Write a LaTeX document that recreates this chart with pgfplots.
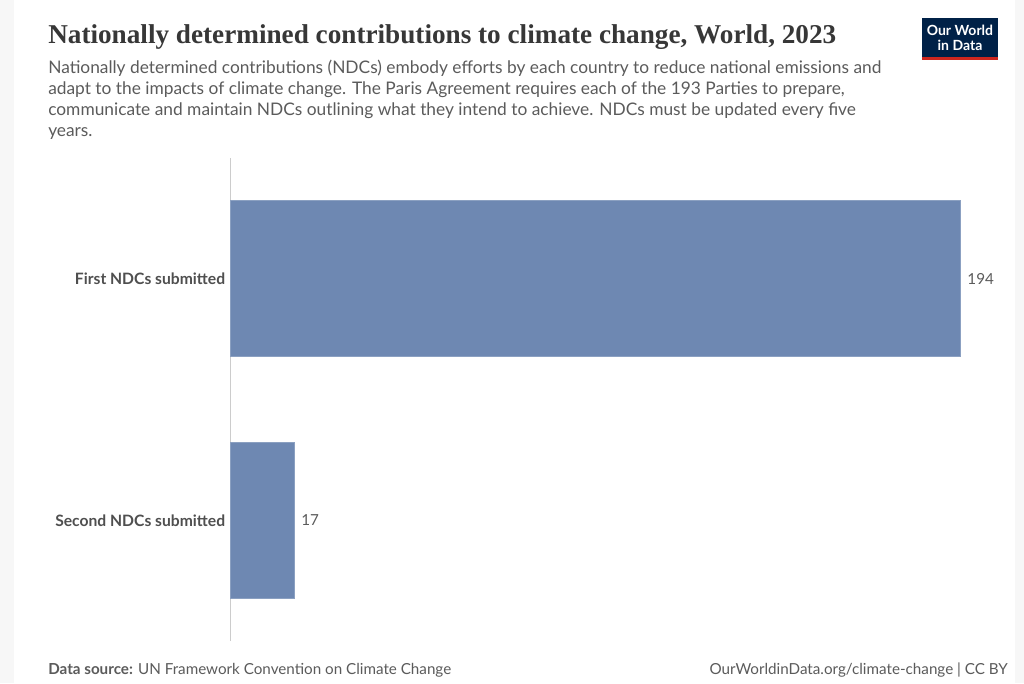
\documentclass[border=0pt]{standalone}
\usepackage{pgfplots}
\pgfplotsset{compat=1.18}
\usepackage{fontspec}
\setmainfont{Lato}
\newfontfamily\titlefont{Liberation Serif}
\definecolor{barc}{HTML}{6E88B2}
\definecolor{txtgray}{HTML}{5B5B5B}
\definecolor{titlec}{HTML}{373737}
\definecolor{labc}{HTML}{4F4F4F}
\definecolor{owidblue}{HTML}{002147}
\definecolor{owidred}{HTML}{CE261E}
\definecolor{bgout}{HTML}{F7F7F7}
\begin{document}
\begin{tikzpicture}[x=0.75pt,y=0.75pt]
% background
\fill[bgout] (0,0) rectangle (1024,683);
\fill[white] (14,0) rectangle (1015,683);
% title
\node[anchor=base west,inner sep=0,text=titlec] at (48,683-44)
  {\titlefont\bfseries\fontsize{20.4pt}{24pt}\selectfont Nationally determined contributions to climate change, World, 2023};
% subtitle
\node[anchor=base west,inner sep=0,text=txtgray] at (48,683-74)
  {\fontsize{13pt}{15.75pt}\selectfont Nationally determined contributions (NDCs) embody efforts by each country to reduce national emissions and};
\node[anchor=base west,inner sep=0,text=txtgray] at (48,683-95)
  {\fontsize{13pt}{15.75pt}\selectfont adapt to the impacts of climate change. The Paris Agreement requires each of the 193 Parties to prepare,};
\node[anchor=base west,inner sep=0,text=txtgray] at (48,683-116)
  {\fontsize{13pt}{15.75pt}\selectfont communicate and maintain NDCs outlining what they intend to achieve. NDCs must be updated every five};
\node[anchor=base west,inner sep=0,text=txtgray] at (48,683-137)
  {\fontsize{13pt}{15.75pt}\selectfont years.};
% logo
\fill[owidblue] (922,683-60) rectangle (998,683-18);
\fill[owidred] (922,683-60) rectangle (998,683-57);
\node[text=white,align=center,inner sep=0,font=\fontsize{10.5pt}{11pt}\selectfont\bfseries] at (960,683-38)
  {Our World\\in Data};
% footer
\node[anchor=base west,inner sep=0,text=txtgray] at (48,683-674)
  {\fontsize{11.4pt}{13pt}\selectfont\textbf{Data source:} UN Framework Convention on Climate Change};
\node[anchor=base east,inner sep=0,text=txtgray] at (1008,683-674)
  {\fontsize{11.4pt}{13pt}\selectfont OurWorldinData.org/climate-change | CC BY};
% axis
\begin{axis}[
  at={(172.5pt,31.5pt)}, anchor=south west,
  scale only axis,
  width=547.5pt, height=362.25pt,
  xbar, bar width=0.646,
  xmin=0, xmax=194,
  ymin=-0.5, ymax=1.5,
  hide x axis,
  axis y line=left,
  y axis line style={-, draw=black!20, line width=0.75pt},
  ytick={0,1},
  yticklabels={Second NDCs submitted, First NDCs submitted},
  ytick style={draw=none},
  yticklabel style={font=\fontsize{11.75pt}{13pt}\selectfont\bfseries, text=labc, xshift=2pt},
  clip=false,
  nodes near coords,
  nodes near coords style={font=\fontsize{11.4pt}{13pt}\selectfont, text=txtgray, anchor=west, xshift=2pt},
  point meta=explicit symbolic,
]
\addplot[fill=barc, draw=barc!80!white, line width=0.5pt] coordinates {(194,1) [194] (17,0) [17]};
\end{axis}
\end{tikzpicture}
\end{document}
